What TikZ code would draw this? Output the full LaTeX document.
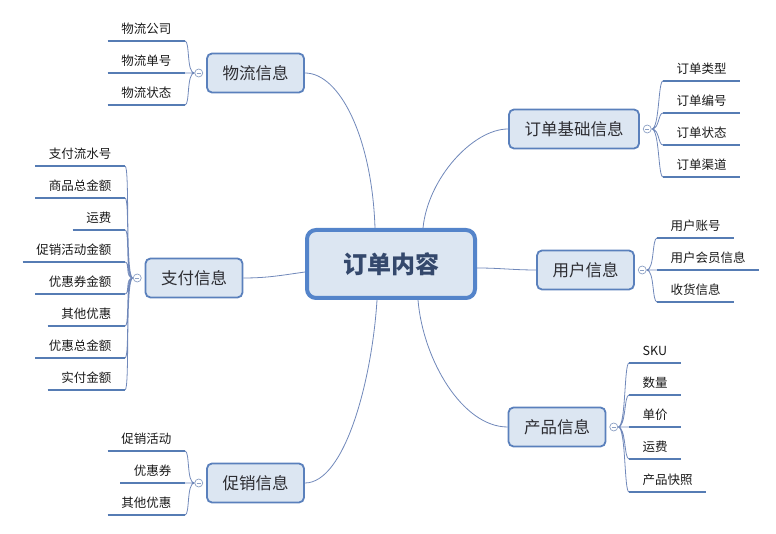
\documentclass[tikz,border=0pt]{standalone}
\usepackage{fontspec}
\setmainfont{Noto Sans CJK SC}
\usepackage{xcolor}
\usepackage{tikz}
\usetikzlibrary{positioning, backgrounds}
\definecolor{boxfill}{RGB}{220, 230, 242}
\definecolor{hubline}{RGB}{84, 132, 202}
\definecolor{topicline}{RGB}{90, 128, 188}
\definecolor{leafline}{RGB}{86, 124, 180}
\definecolor{wirecol}{RGB}{112, 136, 186}
\definecolor{foldline}{RGB}{140, 160, 196}
\definecolor{hubtext}{RGB}{52, 72, 108}
\definecolor{topictext}{RGB}{45, 45, 50}
\definecolor{leaftext}{RGB}{25, 25, 25}

\begin{document}
\begin{tikzpicture}[
  x=1pt, y=1pt,
  every node/.style={font=\fontsize{12.5}{14}\selectfont, text=leaftext},
  hub/.style={draw=hubline, line width=4pt, fill=boxfill, rounded corners=9pt, minimum width=168pt, minimum height=68pt, font=\fontsize{24}{28}\selectfont\bfseries, text=hubtext},
  topic/.style={draw=topicline, line width=1.8pt, fill=boxfill, rounded corners=5pt, inner xsep=15.5pt, minimum height=39pt, font=\fontsize{16.5}{19}\selectfont, text=topictext},
  bar/.style={draw=leafline, line width=2.6pt},
  leaf/.style={inner xsep=13.5pt, inner ysep=7.5pt, text height=11pt, text depth=0pt, minimum width=48pt, append after command={(\tikzlastnode.south west) edge[bar] (\tikzlastnode.south east)}},
  fold/.style={circle, draw=foldline, fill=white, line width=0.7pt, minimum size=8pt, inner sep=0pt, path picture={\draw[foldline, line width=0.7pt] ([xshift=-2.2pt]path picture bounding box.center) -- ([xshift=2.2pt]path picture bounding box.center);}},
  wire/.style={draw=wirecol, line width=0.8pt},
  twigl/.style={wire, to path={.. controls +(-8,0) and +(5,0) .. (\tikztotarget)}},
  twigr/.style={wire, to path={.. controls +(8,0) and +(-5,0) .. (\tikztotarget)}}
]
  \useasboundingbox (0,0) rectangle (776,534);

  % Nodo centrale e rami
  \node[hub] (hub) at (391, 270) {订单内容};
  \node[topic] (wl) at (255.5, 461) {物流信息};
  \node[topic] (jc) at (574, 405) {订单基础信息};
  \node[topic] (zf) at (194, 256) {支付信息};
  \node[topic] (yh) at (585.5, 264) {用户信息};
  \node[topic] (cp) at (557, 107) {产品信息};
  \node[topic] (cx) at (255.5, 51) {促销信息};

  % Foglie a sinistra
  \node[leaf, anchor=south east] (wl1) at (185, 493) {物流公司};
  \node[leaf, anchor=south east] (wl2) at (185, 461) {物流单号};
  \node[leaf, anchor=south east] (wl3) at (185, 429) {物流状态};

  \node[leaf, anchor=south east] (zf1) at (125, 368) {支付流水号};
  \node[leaf, anchor=south east] (zf2) at (125, 336) {商品总金额};
  \node[leaf, anchor=south east] (zf3) at (125, 304) {运费};
  \node[leaf, anchor=south east] (zf4) at (125, 272) {促销活动金额};
  \node[leaf, anchor=south east] (zf5) at (125, 240) {优惠券金额};
  \node[leaf, anchor=south east] (zf6) at (125, 208) {其他优惠};
  \node[leaf, anchor=south east] (zf7) at (125, 176) {优惠总金额};
  \node[leaf, anchor=south east] (zf8) at (125, 144) {实付金额};

  \node[leaf, anchor=south east] (cx1) at (185, 83) {促销活动};
  \node[leaf, anchor=south east] (cx2) at (185, 51) {优惠券};
  \node[leaf, anchor=south east] (cx3) at (185, 19) {其他优惠};

  % Foglie a destra
  \node[leaf, anchor=south west] (jc1) at (663, 453) {订单类型};
  \node[leaf, anchor=south west] (jc2) at (663, 421) {订单编号};
  \node[leaf, anchor=south west] (jc3) at (663, 389) {订单状态};
  \node[leaf, anchor=south west] (jc4) at (663, 357) {订单渠道};

  \node[leaf, anchor=south west] (yh1) at (657, 296) {用户账号};
  \node[leaf, anchor=south west] (yh2) at (657, 264) {用户会员信息};
  \node[leaf, anchor=south west] (yh3) at (657, 232) {收货信息};

  \node[leaf, anchor=south west] (cp1) at (629, 171) {SKU};
  \node[leaf, anchor=south west] (cp2) at (629, 139) {数量};
  \node[leaf, anchor=south west] (cp3) at (629, 107) {单价};
  \node[leaf, anchor=south west] (cp4) at (629, 75) {运费};
  \node[leaf, anchor=south west] (cp5) at (629, 42) {产品快照};

  % Cerchi di chiusura
  \node[fold, left=3pt of wl] (wlf) {};
  \node[fold, left=3pt of zf] (zff) {};
  \node[fold, left=3pt of cx] (cxf) {};
  \node[fold, right=3pt of jc] (jcf) {};
  \node[fold, right=3pt of yh] (yhf) {};
  \node[fold, right=3pt of cp] (cpf) {};

  \begin{pgfonlayer}{background}
  % Collegamenti dal centro
  \draw[wire] (wl.east) .. controls +(35,0) and +(-3,90) .. ([xshift=-16pt]hub.north);
  \draw[wire] ([xshift=32pt]hub.north) .. controls +(5,50) and +(-35,0) .. (jc.west);
  \draw[wire] (zf.east) to[out=0, in=188] ([yshift=-8pt]hub.west);
  \draw[wire] ([yshift=-4pt]hub.east) to[out=0, in=180] (yh.west);
  \draw[wire] ([xshift=27pt]hub.south) .. controls +(5,-60) and +(-45,0) .. (cp.west);
  \draw[wire] ([xshift=-14pt]hub.south) .. controls +(-5,-80) and +(40,0) .. (cx.east);

  % Rametti verso le foglie
  \draw[twigl] (wlf.west) to (wl1.south east) (wlf.west) to (wl2.south east) (wlf.west) to (wl3.south east);
  \draw[twigl] (zff.west) to (zf1.south east) (zff.west) to (zf2.south east) (zff.west) to (zf3.south east) (zff.west) to (zf4.south east)
               (zff.west) to (zf5.south east) (zff.west) to (zf6.south east) (zff.west) to (zf7.south east) (zff.west) to (zf8.south east);
  \draw[twigl] (cxf.west) to (cx1.south east) (cxf.west) to (cx2.south east) (cxf.west) to (cx3.south east);
  \draw[twigr] (jcf.east) to (jc1.south west) (jcf.east) to (jc2.south west) (jcf.east) to (jc3.south west) (jcf.east) to (jc4.south west);
  \draw[twigr] (yhf.east) to (yh1.south west) (yhf.east) to (yh2.south west) (yhf.east) to (yh3.south west);
  \draw[twigr] (cpf.east) to (cp1.south west) (cpf.east) to (cp2.south west) (cpf.east) to (cp3.south west) (cpf.east) to (cp4.south west) (cpf.east) to (cp5.south west);
  \end{pgfonlayer}

\end{tikzpicture}
\end{document}
